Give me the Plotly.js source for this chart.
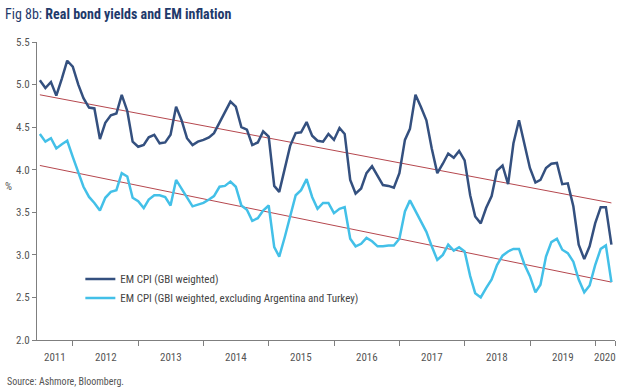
<!DOCTYPE html>
<html>
<head>
<meta charset="utf-8">
<script src="https://cdn.plot.ly/plotly-3.0.1.min.js"></script>
<style>
  html, body { margin: 0; padding: 0; background: #fff; }
  #chart { width: 624px; height: 392px; }
</style>
</head>
<body>
<div id="chart"></div>
<script>
// ---- Data (monthly, month-end, Jun 2011 .. Mar 2020) ----
var startYear = 2011, startMonth = 6, nMonths = 106;

var emCpi = [
  5.05, 4.96, 5.03, 4.87, 5.07, 5.28, 5.21, 5.00, 4.84, 4.73,
  4.72, 4.36, 4.55, 4.64, 4.66, 4.88, 4.69, 4.33, 4.27, 4.29,
  4.38, 4.41, 4.31, 4.32, 4.41, 4.74, 4.58, 4.37, 4.29, 4.33,
  4.35, 4.38, 4.43, 4.56, 4.68, 4.80, 4.74, 4.50, 4.47, 4.29,
  4.32, 4.45, 4.39, 3.81, 3.74, 4.02, 4.28, 4.43, 4.44, 4.56,
  4.40, 4.34, 4.33, 4.42, 4.35, 4.49, 4.42, 3.88, 3.72, 3.78,
  3.96, 4.04, 3.92, 3.82, 3.81, 3.79, 3.96, 4.35, 4.48, 4.88,
  4.74, 4.58, 4.25, 3.96, 4.07, 4.19, 4.14, 4.22, 4.11, 3.70,
  3.45, 3.37, 3.55, 3.69, 3.99, 4.05, 3.83, 4.31, 4.58, 4.31,
  4.02, 3.85, 3.88, 4.02, 4.07, 4.08, 3.83, 3.84, 3.57, 3.12,
  2.95, 3.10, 3.37, 3.56, 3.56, 3.12
];

var emCpiExArTr = [
  4.42, 4.33, 4.37, 4.25, 4.30, 4.34, 4.15, 3.96, 3.80, 3.68,
  3.61, 3.52, 3.67, 3.74, 3.76, 3.96, 3.92, 3.67, 3.63, 3.55,
  3.65, 3.70, 3.70, 3.68, 3.58, 3.88, 3.78, 3.67, 3.57, 3.59,
  3.61, 3.65, 3.69, 3.80, 3.81, 3.86, 3.80, 3.58, 3.53, 3.40,
  3.43, 3.52, 3.58, 3.09, 2.98, 3.21, 3.46, 3.70, 3.76, 3.89,
  3.68, 3.54, 3.61, 3.61, 3.49, 3.54, 3.56, 3.19, 3.10, 3.13,
  3.20, 3.16, 3.10, 3.10, 3.11, 3.11, 3.19, 3.51, 3.64, 3.52,
  3.39, 3.27, 3.10, 2.94, 3.00, 3.12, 3.05, 3.09, 3.04, 2.75,
  2.55, 2.50, 2.61, 2.71, 2.88, 2.99, 3.04, 3.07, 3.07, 2.89,
  2.75, 2.56, 2.65, 2.98, 3.15, 3.19, 3.06, 3.02, 2.92, 2.71,
  2.56, 2.64, 2.88, 3.07, 3.11, 2.68
];

// Linear trend end points (start, end)
var trendEmCpi = [4.88, 3.61];
var trendEmCpiEx = [4.05, 2.68];

var seriesNames = [
  'EM CPI (GBI weighted)',
  'EM CPI (GBI weighted, excluding Argentina and Turkey)'
];
var yearLabels = ['2011','2012','2013','2014','2015','2016','2017','2018','2019','2020'];
var yTicks = [2.0, 2.5, 3.0, 3.5, 4.0, 4.5, 5.0, 5.5];

// ---- Build month-end dates ----
function pad(n){ return (n < 10 ? '0' : '') + n; }
var dates = [];
for (var i = 0; i < nMonths; i++) {
  var d = new Date(Date.UTC(startYear, startMonth - 1 + i + 1, 0));
  dates.push(d.getUTCFullYear() + '-' + pad(d.getUTCMonth() + 1) + '-' + pad(d.getUTCDate()));
}
var trendX = [dates[0], dates[dates.length - 1]];

var xRange = ['2011-06-14', '2020-04-20'];
var r0 = Date.parse(xRange[0]), r1 = Date.parse(xRange[1]);

// tick marks at year boundaries + axis end
var tickVals = [], tickText = [];
for (var k = 1; k < yearLabels.length; k++) {
  tickVals.push(yearLabels[k] + '-01-01'); tickText.push('');
}
tickVals.push(xRange[1]); tickText.push('');

// year labels centered in the visible part of each year
var FONT = '"Liberation Sans Narrow", "Roboto Condensed", "DejaVu Sans Condensed", Arial, sans-serif';
var annotations = [];
yearLabels.forEach(function (y) {
  var a = Math.max(Date.parse(y + '-01-01'), r0);
  var b = Math.min(Date.parse((+y + 1) + '-01-01'), r1);
  var mid = new Date((a + b) / 2).toISOString().slice(0, 10);
  annotations.push({
    text: y, x: mid, xref: 'x', y: 0, yref: 'paper',
    yanchor: 'top', xanchor: 'center', yshift: -9, showarrow: false,
    font: {family: FONT, size: 11, color: '#555555'}
  });
});
annotations.push({
  text: '%', xref: 'paper', yref: 'paper', x: -0.05, y: 0.514,
  xanchor: 'center', yanchor: 'middle', showarrow: false,
  font: {family: FONT, size: 11, color: '#555555'}
});
annotations.push({
  text: 'Source: Ashmore, Bloomberg.', xref: 'paper', yref: 'paper',
  x: -0.0548, y: -0.14, xanchor: 'left', yanchor: 'middle', showarrow: false,
  font: {family: FONT, size: 10, color: '#555555'}
});

var traces = [
  {x: trendX, y: trendEmCpi, mode: 'lines', showlegend: false, hoverinfo: 'skip',
   line: {color: '#b5474e', width: 1}},
  {x: trendX, y: trendEmCpiEx, mode: 'lines', showlegend: false, hoverinfo: 'skip',
   line: {color: '#b5474e', width: 1}},
  {x: dates, y: emCpi, mode: 'lines', name: seriesNames[0],
   line: {color: '#34507f', width: 2.5}},
  {x: dates, y: emCpiExArTr, mode: 'lines', name: seriesNames[1],
   line: {color: '#43c0e8', width: 2.5}}
];

var layout = {
  width: 624, height: 392,
  margin: {l: 36.7, r: 8.7, t: 42, b: 51.7},
  paper_bgcolor: '#ffffff', plot_bgcolor: '#ffffff',
  font: {family: FONT, size: 11, color: '#555555'},
  title: {
    text: 'Fig 8b: <b>Real bond yields and EM inflation</b>',
    x: 0.008, xanchor: 'left', xref: 'container',
    y: 0.964, yanchor: 'middle', yref: 'container',
    font: {family: FONT, size: 14, color: '#1f3a6b'}
  },
  xaxis: {
    type: 'date', range: xRange, tickmode: 'array',
    tickvals: tickVals, ticktext: tickText,
    ticks: 'outside', ticklen: 5, tickcolor: '#7f7f7f', tickwidth: 1,
    showline: true, linecolor: '#7f7f7f', linewidth: 1,
    showgrid: false, zeroline: false, fixedrange: true
  },
  yaxis: {
    range: [2.0, 5.5], tickmode: 'array', tickvals: yTicks,
    ticktext: yTicks.map(function (v) { return v.toFixed(1); }),
    ticks: 'outside', ticklen: 4, tickcolor: '#7f7f7f', tickwidth: 1,
    showline: true, linecolor: '#7f7f7f', linewidth: 1,
    showgrid: false, zeroline: false, fixedrange: true,
    tickfont: {family: FONT, size: 11, color: '#555555'}
  },
  legend: {
    x: 0.075, y: 0.253, xanchor: 'left', yanchor: 'top',
    bgcolor: 'rgba(0,0,0,0)', borderwidth: 0,
    font: {family: FONT, size: 11, color: '#444444'}
  },
  annotations: annotations,
  showlegend: true
};

Plotly.newPlot('chart', traces, layout, {displayModeBar: false, staticPlot: true});
</script>
</body>
</html>
